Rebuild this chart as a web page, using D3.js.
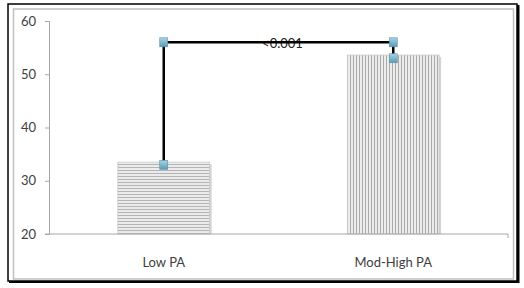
<!DOCTYPE html>
<html><head><meta charset="utf-8">
<script src="https://cdn.jsdelivr.net/npm/d3@7"></script>
<style>body{margin:0;background:#fff}svg{display:block}</style>
</head><body>
<script>
const categories = ["Low PA", "Mod-High PA"];
const barValues = [33.5, 53.6];
const lineCats = ["Low PA", "Low PA", "Mod-High PA", "Mod-High PA"];
const lineValues = [33, 56, 56, 53];
const yTicks = [20, 30, 40, 50, 60];
const pLabel = "<0.001";
const pLabelValue = 56;

const W = 524, H = 288;
const svg = d3.select("body").append("svg").attr("width", W).attr("height", H);
const defs = svg.append("defs");

// patterns
const ph = defs.append("pattern").attr("id","hstripe").attr("patternUnits","userSpaceOnUse").attr("width",6).attr("height",3);
ph.append("rect").attr("width",6).attr("height",3).attr("fill","#ebebeb");
ph.append("rect").attr("y",2).attr("width",6).attr("height",1).attr("fill","#b4b4b4");
const pv = defs.append("pattern").attr("id","vstripe").attr("patternUnits","userSpaceOnUse").attr("width",3).attr("height",6);
pv.append("rect").attr("width",3).attr("height",6).attr("fill","#ececec");
pv.append("rect").attr("x",2).attr("width",1).attr("height",6).attr("fill","#aaaaaa");

const mg = defs.append("linearGradient").attr("id","mk").attr("x1",0).attr("y1",0).attr("x2",0).attr("y2",1);
mg.append("stop").attr("offset","0%").attr("stop-color","#a9d3e3");
mg.append("stop").attr("offset","100%").attr("stop-color","#5a9bb5");

// frame
svg.append("rect").attr("x",8).attr("y",4).attr("width",509).attr("height",277)
  .attr("fill","none").attr("stroke","#000").attr("stroke-width",1.5);
svg.append("rect").attr("x",517).attr("y",5).attr("width",2.5).attr("height",278).attr("fill","#000");
svg.append("rect").attr("x",9).attr("y",281).attr("width",510).attr("height",2).attr("fill","#000");
svg.append("rect").attr("x",13.5).attr("y",9).attr("width",500).attr("height",270)
  .attr("fill","none").attr("stroke","#c0c0c0").attr("stroke-width",1.5);

const x = d3.scaleBand().domain(categories).range([49, 508]).paddingInner(0.6).paddingOuter(0.3);
const y = d3.scaleLinear().domain([20, 60]).range([234, 21]);

// y axis
const yAxis = svg.append("g").attr("transform","translate(49,0)")
  .call(d3.axisLeft(y).tickValues(yTicks).tickSize(4).tickPadding(9).tickFormat(d3.format("d")));
yAxis.select(".domain").attr("stroke","#a6a6a6");
yAxis.selectAll(".tick line").attr("stroke","#a6a6a6");
yAxis.selectAll("text").attr("font-family","Lato, 'Open Sans', sans-serif").attr("font-size",13).attr("fill","#404040");

// bars
const fills = ["url(#hstripe)", "url(#vstripe)"];
svg.append("g").selectAll("rect.shadow").data(categories).join("rect")
  .attr("x", d => x(d)+2).attr("y", (d,i) => y(barValues[i])+2)
  .attr("width", x.bandwidth()).attr("height", (d,i) => y(20)-y(barValues[i])-2)
  .attr("fill","#d4d4d4");
svg.append("g").selectAll("rect.bar").data(categories).join("rect")
  .attr("x", d => x(d)).attr("y", (d,i) => y(barValues[i]))
  .attr("width", x.bandwidth()).attr("height", (d,i) => y(20)-y(barValues[i]))
  .attr("fill", (d,i) => fills[i]).attr("stroke","#c8c8c8").attr("stroke-width",0.8);

// x axis
const xAxisG = svg.append("g").attr("transform","translate(0,234)");
xAxisG.append("line").attr("x1",45).attr("x2",508).attr("stroke","#a6a6a6");
xAxisG.append("line").attr("x1",508).attr("x2",508).attr("y1",0).attr("y2",4).attr("stroke","#a6a6a6");
xAxisG.selectAll("text").data(categories).join("text")
  .attr("x", d => x(d)+x.bandwidth()/2).attr("y", 33)
  .attr("text-anchor","middle").attr("font-family","Lato, 'Open Sans', sans-serif")
  .attr("font-size",13).attr("fill","#404040").text(d => d);

// label
svg.append("text").attr("x", (x(categories[0])+x(categories[1]))/2 + x.bandwidth()/2 + 4)
  .attr("y", y(pLabelValue)+6).attr("text-anchor","middle")
  .attr("font-family","Lato, 'Open Sans', sans-serif").attr("font-size",13).attr("fill","#222").text(pLabel);

// line series
const pts = lineCats.map((c,i) => [x(c)+x.bandwidth()/2, y(lineValues[i])]);
svg.append("path").attr("d", d3.line()(pts)).attr("fill","none").attr("stroke","#000").attr("stroke-width",2.5);
svg.append("g").selectAll("rect").data(pts).join("rect")
  .attr("x", d => d[0]-4).attr("y", d => d[1]-4.5).attr("width",8).attr("height",9)
  .attr("fill","url(#mk)").attr("stroke","#5b93a8").attr("stroke-width",0.6);
</script>
</body></html>
